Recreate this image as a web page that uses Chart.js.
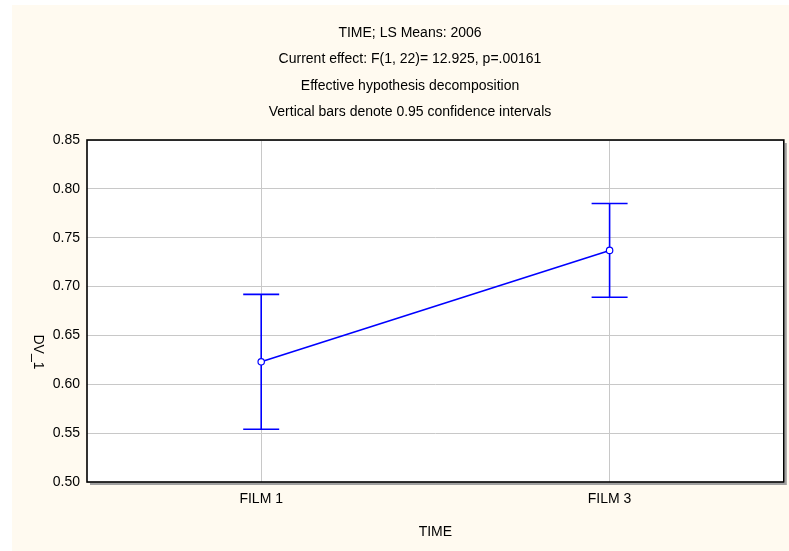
<!DOCTYPE html>
<html>
<head>
<meta charset="utf-8">
<script src="https://cdn.jsdelivr.net/npm/chart.js@4/dist/chart.umd.min.js"></script>
<style>
  html, body { margin: 0; padding: 0; background: #FFFFFF; }
  #wrap { width: 789px; height: 551px; }
</style>
</head>
<body>
<div id="wrap"><canvas id="c" width="789" height="551"></canvas></div>
<script>
// LS means of DV_1 by TIME with 95% confidence limits
const categories = ['FILM 1', 'FILM 3'];
const means = [0.623, 0.737];
const lowerCI = [0.554, 0.689];
const upperCI = [0.692, 0.785];
const yTicks = [0.50, 0.55, 0.60, 0.65, 0.70, 0.75, 0.80, 0.85];
const titleLines = [
  'TIME; LS Means: 2006',
  'Current effect: F(1, 22)= 12.925, p=.00161',
  'Effective hypothesis decomposition',
  'Vertical bars denote 0.95 confidence intervals'
];
const xTitle = 'TIME';
const yTitle = 'DV_1';

const FAMILY = '"Liberation Sans", Arial, sans-serif';
const FONT = '14px ' + FAMILY;
const BLUE = '#0000FF';
const PAPER = '#FFFAF0';

// Cream page, white plot area, black frame with a light drop shadow
const plotFrame = {
  id: 'plotFrame',
  beforeDraw(chart) {
    const { ctx, chartArea: a, width, height } = chart;
    ctx.save();
    ctx.fillStyle = '#FFFFFF';
    ctx.fillRect(0, 0, width, height);
    ctx.fillStyle = PAPER;
    ctx.fillRect(12, 5, width - 12, height - 5);
    ctx.fillStyle = '#FFFFFF';
    ctx.fillRect(a.left, a.top, a.right - a.left, a.bottom - a.top);
    ctx.restore();
  },
  afterDraw(chart) {
    const { ctx, chartArea: a } = chart;
    ctx.save();
    ctx.strokeStyle = '#a0a0a0';
    ctx.lineWidth = 2;
    ctx.beginPath();
    ctx.moveTo(a.left + 3, a.bottom + 2);
    ctx.lineTo(a.right + 2, a.bottom + 2);
    ctx.lineTo(a.right + 2, a.top + 3);
    ctx.stroke();
    ctx.strokeStyle = '#000000';
    ctx.lineWidth = 1.6;
    ctx.strokeRect(a.left, a.top, a.right - a.left, a.bottom - a.top);
    ctx.restore();
  }
};

// Confidence-interval whiskers with caps
const errorBars = {
  id: 'errorBars',
  beforeDatasetsDraw(chart) {
    const { ctx } = chart;
    const xs = chart.scales.x, ys = chart.scales.y;
    ctx.save();
    ctx.strokeStyle = BLUE;
    ctx.lineWidth = 1.6;
    const cap = 18;
    categories.forEach((c, i) => {
      const x = xs.getPixelForValue(i);
      const yl = ys.getPixelForValue(lowerCI[i]);
      const yu = ys.getPixelForValue(upperCI[i]);
      ctx.beginPath();
      ctx.moveTo(x, yl); ctx.lineTo(x, yu);
      ctx.moveTo(x - cap, yu); ctx.lineTo(x + cap, yu);
      ctx.moveTo(x - cap, yl); ctx.lineTo(x + cap, yl);
      ctx.stroke();
    });
    ctx.restore();
  }
};

// Title block and axis titles
const texts = {
  id: 'texts',
  afterDraw(chart) {
    const { ctx, chartArea: a } = chart;
    const cx = (a.left + a.right) / 2;
    ctx.save();
    ctx.fillStyle = '#000000';
    ctx.font = FONT;
    ctx.textAlign = 'center';
    ctx.textBaseline = 'middle';
    titleLines.forEach((t, i) => ctx.fillText(t, 410, 33 + i * 26.5));
    ctx.fillText(xTitle, cx, 532);
    ctx.translate(38, 352);
    ctx.rotate(Math.PI / 2);
    ctx.fillText(yTitle, 0, 0);
    ctx.restore();
  }
};

new Chart(document.getElementById('c'), {
  type: 'line',
  data: {
    labels: categories,
    datasets: [{
      data: means,
      borderColor: BLUE,
      borderWidth: 1.6,
      pointRadius: 3.2,
      pointBorderWidth: 1.2,
      pointBackgroundColor: '#FFFFFF',
      pointBorderColor: BLUE,
      tension: 0,
      fill: false
    }]
  },
  options: {
    responsive: false,
    animation: false,
    devicePixelRatio: 1,
    layout: { padding: { left: 0, top: 140, right: 4, bottom: 0 } },
    plugins: { legend: { display: false }, tooltip: { enabled: false }, title: { display: false } },
    scales: {
      x: {
        type: 'category',
        offset: true,
        grid: { color: '#C8C8C8', lineWidth: 1, drawTicks: false, offset: false },
        border: { display: false },
        ticks: { color: '#000', font: { family: FAMILY, size: 14 }, padding: 9 },
        afterFit(s) { s.height = 69; }
      },
      y: {
        min: 0.5,
        max: 0.85,
        grid: { color: '#C8C8C8', lineWidth: 1, drawTicks: false },
        border: { display: false },
        afterBuildTicks(s) { s.ticks = yTicks.map(v => ({ value: v })); },
        ticks: {
          color: '#000',
          font: { family: FAMILY, size: 14 },
          padding: 7,
          callback: v => v.toFixed(2)
        },
        afterFit(s) { s.width = 87; }
      }
    }
  },
  plugins: [plotFrame, errorBars, texts]
});
</script>
</body>
</html>
